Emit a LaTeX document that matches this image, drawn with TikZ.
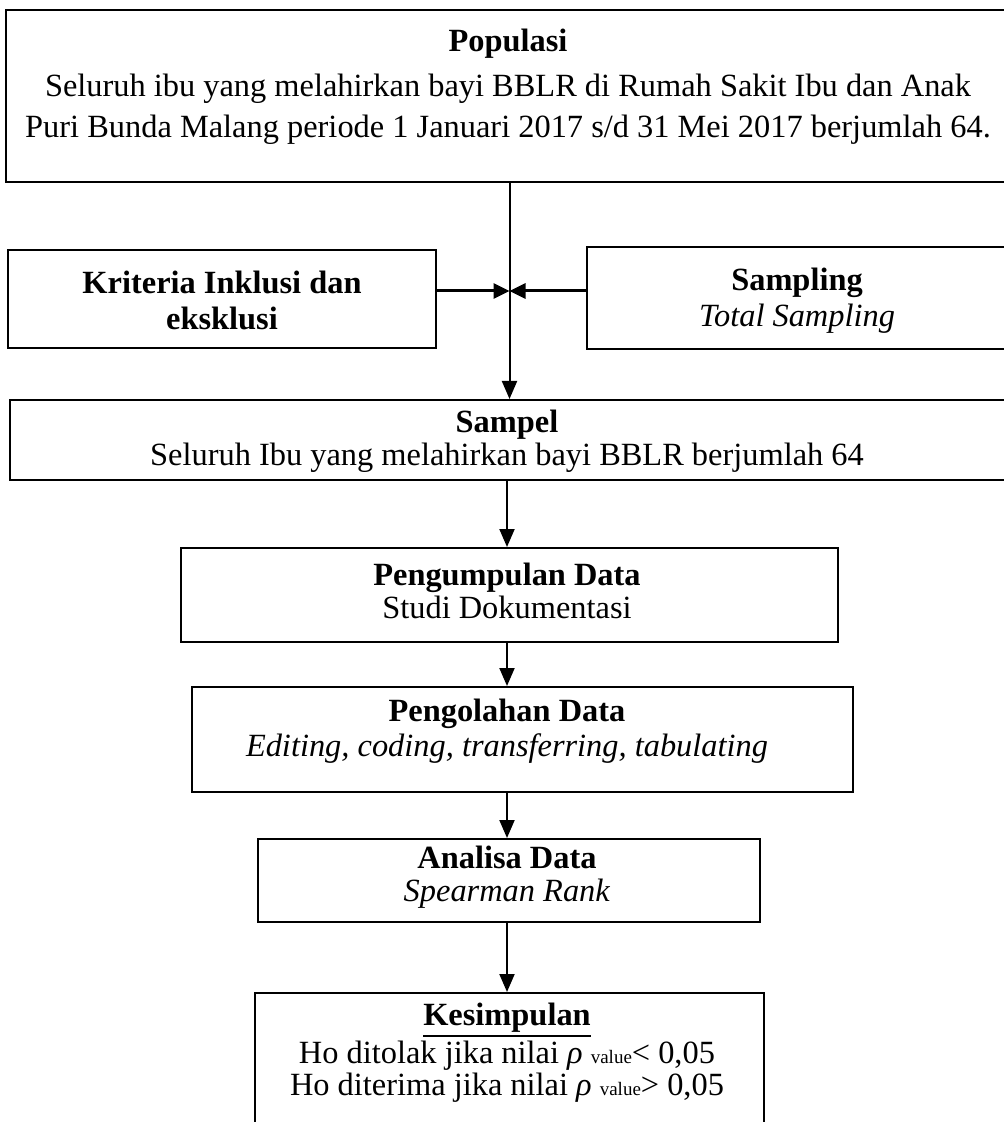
\documentclass[tikz,border=0pt]{standalone}
\usepackage{fontspec}
\setmainfont{Liberation Serif}
\usetikzlibrary{arrows.meta}
\newcommand{\myul}[1]{\leavevmode\vtop{\hbox{#1}\kern1pt\hrule height 1.2pt}}
\begin{document}
\begin{tikzpicture}[x=0.5pt,y=-0.5pt,
  box/.style={draw=black, line width=1pt, rectangle, inner sep=0pt},
  txt/.style={align=center, inner sep=0pt, font=\fontsize{16.2}{16.5}\selectfont},
  arr/.style={line width=1pt, -{Triangle[length=9pt,width=7.5pt]}},
  harr/.style={line width=1.5pt, -{Triangle[length=8pt,width=7.5pt]}}]
\useasboundingbox (0,0) rectangle (1004,1122);
\clip (0,0) rectangle (1004,1122);
% boxes
\node[box, minimum width=502pt, minimum height=86pt] (pop) at (508,96) {};
\node[txt, font=\fontsize{16.2}{20.5}\selectfont] (popT) at (508,87) {\textbf{Populasi}\\[2pt]
  Seluruh ibu yang melahirkan bayi BBLR di Rumah Sakit Ibu dan Anak\\
  Puri Bunda Malang periode 1 Januari 2017 s/d 31 Mei 2017 berjumlah 64.};
\node[box, minimum width=214pt, minimum height=49pt] (krit) at (222,299) {};
\node[txt, font=\fontsize{16.2}{18}\selectfont] (kritT) at (222,300) {\textbf{Kriteria Inklusi dan}\\\textbf{eksklusi}};
\node[box, minimum width=211.5pt, minimum height=51pt] (samp) at (798.5,298) {};
\node[txt, font=\fontsize{16.2}{18}\selectfont] (sampT) at (797,301) {\textbf{Sampling}\\\textit{Total Sampling}};
\node[box, minimum width=500pt, minimum height=40pt] (sampel) at (510,440) {};
\node[txt] (sampelT) at (507,441) {\textbf{Sampel}\\Seluruh Ibu yang melahirkan bayi BBLR berjumlah 64};
\node[box, minimum width=328.5pt, minimum height=47pt] (kumpul) at (509.5,595) {};
\node[txt] (kumpulT) at (507,591) {\textbf{Pengumpulan Data}\\Studi Dokumentasi};
\node[box, minimum width=330.5pt, minimum height=52.5pt] (olah) at (522.5,739.5) {};
\node[txt, font=\fontsize{16.2}{17.5}\selectfont] (olahT) at (507,731) {\textbf{Pengolahan Data}\\\textit{Editing, coding, transferring, tabulating}};
\node[box, minimum width=251pt, minimum height=41.5pt] (anal) at (509,880.5) {};
\node[txt] (analT) at (507,877) {\textbf{Analisa Data}\\\textit{Spearman Rank}};
\node[box, minimum width=254.5pt, minimum height=77pt] (kes) at (509.5,1070) {};
\node[txt, font=\fontsize{16.2}{16}\selectfont] (kesT) at (507,1053) {\myul{\textbf{Kesimpulan}}\\[1pt]
  Ho ditolak jika nilai \textit{ρ} {\fontsize{9.5}{10}\selectfont value}< 0,05\\
  Ho diterima jika nilai \textit{ρ} {\fontsize{9.5}{10}\selectfont value}> 0,05};
% connectors
\coordinate (ax) at (509.5,0);
\coordinate (ax2) at (507,0);
\coordinate (mid) at (509.5,291);
\draw[arr] (pop.south -| ax) -- (sampel.north -| ax);
\draw[harr] (krit.east |- mid) -- (mid);
\draw[harr] (samp.west |- mid) -- (mid);
\draw[arr] (sampel.south -| ax2) -- (kumpul.north -| ax2);
\draw[arr] (kumpul.south -| ax2) -- (olah.north -| ax2);
\draw[arr] (olah.south -| ax2) -- (anal.north -| ax2);
\draw[arr] (anal.south -| ax2) -- (kes.north -| ax2);
\end{tikzpicture}
\end{document}
